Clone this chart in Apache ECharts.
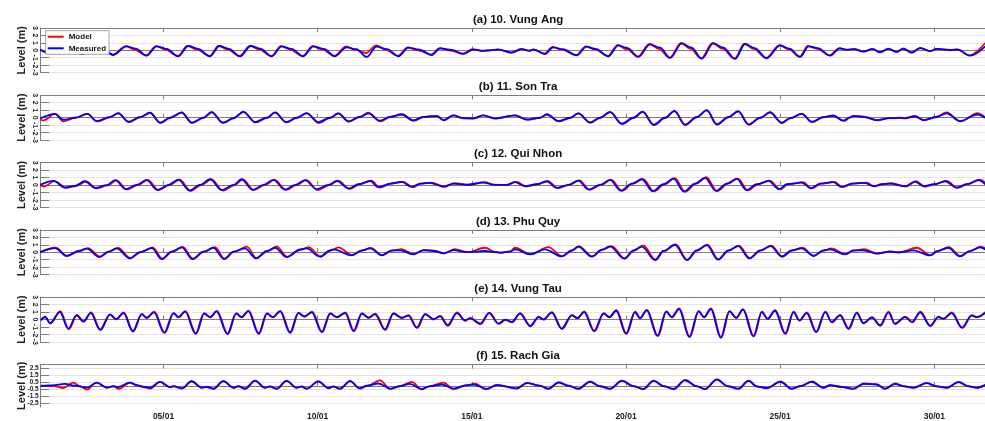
<!DOCTYPE html>
<html><head><meta charset="utf-8">
<script src="https://cdn.jsdelivr.net/npm/echarts@6/dist/echarts.min.js"></script>
<style>html,body{margin:0;padding:0;background:#fff;overflow:hidden;width:985px;height:421px}#c{width:996px;height:421px}</style>
</head><body><div id="c"></div>
<script>
// x axis in days since 01/01 00:00
const tickDays = [4, 9, 14, 19, 24, 29];
const tickLabels = ['05/01', '10/01', '15/01', '20/01', '25/01', '30/01'];
const stationTitles = ['(a) 10. Vung Ang', '(b) 11. Son Tra', '(c) 12. Qui Nhon', '(d) 13. Phu Quy', '(e) 14. Vung Tau', '(f) 15. Rach Gia'];
const yTicksStd = [-3, -2, -1, 0, 1, 2, 3];
const yTicksF = [-2.5, -1.5, -0.5, 0.5, 1.5, 2.5];
const seriesNames = ['Model', 'Measured'];

const aMeas = [[0.00,0.10],[0.32,-0.35],[0.78,0.45],[1.02,0.15],[1.35,-0.50],[1.80,0.50],[2.05,0.18],[2.37,-0.63],[2.80,0.54],[3.10,0.22],[3.45,-0.72],[3.78,0.54],[4.10,0.20],[4.48,-0.80],[4.80,0.58],[5.12,0.20],[5.51,-0.80],[5.81,0.58],[6.12,0.20],[6.48,-0.80],[6.83,0.58],[7.15,0.20],[7.51,-0.80],[7.83,0.54],[8.15,0.20],[8.53,-0.80],[8.86,0.54],[9.20,0.20],[9.56,-0.80],[9.94,0.40],[10.25,0.15],[10.59,-0.89],[10.91,0.49],[11.25,0.15],[11.62,-0.80],[11.94,0.36],[12.30,0.10],[12.70,-0.63],[12.97,0.27],[13.35,0.05],[13.72,-0.49],[14.05,0.09],[14.35,-0.05],[14.59,0.00],[14.86,0.10],[15.29,-0.30],[15.62,0.15],[15.85,-0.05],[16.00,0.10],[16.37,-0.50],[16.64,0.40],[16.95,0.15],[17.40,-0.67],[17.72,0.49],[18.02,0.18],[18.43,-0.80],[18.75,0.67],[19.05,0.30],[19.40,-0.89],[19.78,0.80],[20.10,0.35],[20.43,-1.03],[20.81,0.94],[21.12,0.35],[21.46,-1.12],[21.83,0.94],[22.15,0.35],[22.54,-1.16],[22.86,0.85],[23.17,0.30],[23.56,-1.07],[24.00,0.67],[24.30,0.22],[24.65,-0.89],[24.92,0.54],[25.22,0.30],[25.62,-0.72],[25.94,0.27],[26.15,0.10],[26.40,0.15],[26.70,-0.15],[27.00,0.15],[27.24,-0.25],[27.51,0.18],[27.78,-0.20],[27.99,0.20],[28.27,-0.30],[28.54,0.30],[28.86,-0.10],[29.08,0.18],[29.51,0.05],[29.75,0.10],[30.16,-0.72],[30.65,0.54]];
const aModel = [[0.00,0.05],[0.30,-0.40],[0.75,0.50],[1.00,0.10],[1.33,-0.45],[1.78,0.52],[2.02,0.10],[2.35,-0.60],[2.78,0.56],[3.05,0.10],[3.43,-0.68],[3.76,0.56],[4.05,0.10],[4.46,-0.76],[4.78,0.60],[5.08,0.10],[5.49,-0.76],[5.79,0.60],[6.08,0.10],[6.46,-0.76],[6.81,0.60],[7.10,0.10],[7.49,-0.78],[7.81,0.56],[8.10,0.10],[8.51,-0.78],[8.84,0.56],[9.15,0.10],[9.54,-0.75],[9.92,0.54],[10.20,0.05],[10.57,-0.36],[10.90,0.67],[11.20,0.05],[11.60,-0.75],[11.92,0.40],[12.25,0.00],[12.68,-0.60],[12.96,0.30],[13.30,-0.05],[13.70,-0.45],[14.03,0.15],[14.35,-0.10],[14.59,0.00],[14.86,0.12],[15.27,-0.30],[15.60,0.18],[15.85,-0.08],[16.00,0.12],[16.35,-0.45],[16.62,0.45],[16.92,0.05],[17.38,-0.62],[17.70,0.52],[18.00,0.08],[18.41,-0.75],[18.73,0.70],[19.02,0.15],[19.38,-0.85],[19.76,0.85],[20.06,0.20],[20.41,-1.00],[20.79,0.98],[21.08,0.22],[21.44,-1.08],[21.81,0.98],[22.12,0.22],[22.52,-1.10],[22.84,0.88],[23.14,0.20],[23.54,-1.02],[23.98,0.70],[24.28,0.12],[24.63,-0.85],[24.90,0.58],[25.20,0.20],[25.60,-0.68],[25.92,0.30],[26.13,0.05],[26.40,0.15],[26.70,-0.18],[27.00,0.18],[27.24,-0.28],[27.51,0.22],[27.78,-0.22],[27.99,0.25],[28.27,-0.30],[28.54,0.32],[28.86,-0.12],[29.08,0.20],[29.51,0.00],[29.75,0.12],[30.14,-0.68],[30.65,0.98]];

const bMeas = [[0.00,-0.11],[0.48,0.51],[0.75,-0.29],[1.13,-0.02],[1.53,0.51],[1.83,-0.47],[2.26,0.07],[2.53,0.60],[2.86,-0.56],[3.24,0.07],[3.56,0.65],[3.89,-0.69],[4.21,-0.02],[4.59,0.69],[4.91,-0.69],[5.29,-0.02],[5.56,0.74],[5.92,-0.69],[6.27,-0.07],[6.59,0.78],[6.97,-0.60],[7.35,-0.02],[7.62,0.69],[7.97,-0.60],[8.32,-0.02],[8.64,0.60],[9.02,-0.60],[9.40,-0.02],[9.67,0.56],[10.00,-0.51],[10.37,0.11],[10.64,0.56],[11.02,-0.42],[11.35,0.11],[11.73,0.42],[12.10,-0.38],[12.43,0.11],[12.86,0.20],[13.08,-0.33],[13.40,0.29],[13.72,-0.07],[14.05,-0.11],[14.37,0.29],[14.75,-0.11],[15.40,0.29],[15.78,-0.25],[16.21,-0.02],[16.43,0.42],[16.81,-0.47],[17.19,-0.02],[17.45,0.56],[17.83,-0.65],[18.16,-0.02],[18.48,0.74],[18.86,-0.83],[19.24,-0.02],[19.54,0.78],[19.89,-0.96],[20.27,-0.02],[20.57,0.87],[20.91,-0.96],[21.29,0.07],[21.62,0.96],[21.94,-0.92],[22.32,0.07],[22.64,0.83],[22.97,-0.92],[23.35,-0.02],[23.67,0.69],[24.05,-0.69],[24.32,-0.07],[24.70,0.51],[25.02,-0.56],[25.40,0.07],[25.72,0.25],[26.05,-0.42],[26.27,0.02],[26.37,0.20],[26.70,0.11],[27.13,-0.33],[27.56,-0.07],[27.90,-0.05],[28.05,-0.10],[28.37,0.15],[28.65,-0.33],[29.05,0.05],[29.40,0.56],[29.83,-0.47],[30.40,0.42],[30.65,-0.02]];
const bModel = [[0.00,-0.25],[0.10,-0.38],[0.48,0.49],[0.75,-0.51],[1.13,-0.05],[1.53,0.49],[1.85,-0.52],[2.26,0.05],[2.53,0.58],[2.88,-0.60],[3.24,0.05],[3.56,0.63],[3.91,-0.72],[4.21,-0.05],[4.59,0.67],[4.93,-0.72],[5.29,-0.05],[5.56,0.72],[5.94,-0.72],[6.27,-0.10],[6.59,0.76],[6.99,-0.65],[7.35,-0.05],[7.62,0.67],[7.99,-0.65],[8.32,-0.05],[8.64,0.58],[9.04,-0.74],[9.40,-0.05],[9.67,0.56],[10.02,-0.55],[10.37,0.08],[10.64,0.65],[11.04,-0.52],[11.35,0.08],[11.73,0.45],[12.12,-0.42],[12.43,0.08],[12.86,0.22],[13.10,-0.38],[13.40,0.30],[13.72,-0.10],[14.05,-0.12],[14.37,0.30],[14.75,-0.13],[15.40,0.30],[15.80,-0.30],[16.21,-0.05],[16.43,0.45],[16.83,-0.52],[17.19,-0.05],[17.45,0.58],[17.85,-0.70],[18.16,-0.05],[18.48,0.76],[18.88,-0.87],[19.24,-0.05],[19.54,0.80],[19.91,-1.00],[20.27,-0.05],[20.57,0.90],[20.93,-1.00],[21.29,0.05],[21.62,1.00],[21.96,-0.96],[22.32,0.05],[22.64,0.86],[22.99,-0.96],[23.35,-0.05],[23.67,0.72],[24.07,-0.74],[24.32,-0.10],[24.70,0.54],[25.04,-0.60],[25.40,0.05],[25.72,0.28],[26.07,-0.45],[26.27,0.02],[26.37,0.22],[26.70,0.14],[27.15,-0.36],[27.56,-0.05],[27.90,0.00],[28.05,-0.05],[28.37,0.22],[28.67,-0.36],[29.05,0.10],[29.40,0.69],[29.85,-0.50],[30.40,0.60],[30.65,0.02]];

const cMeas = [[0.00,0.00],[0.43,0.54],[0.80,-0.36],[1.13,-0.13],[1.45,0.49],[1.78,-0.40],[2.16,-0.04],[2.43,0.63],[2.78,-0.58],[3.13,0.00],[3.45,0.67],[3.80,-0.67],[4.16,0.00],[4.48,0.71],[4.84,-0.76],[5.18,0.00],[5.51,0.76],[5.89,-0.71],[6.27,0.00],[6.53,0.76],[6.89,-0.67],[7.24,0.00],[7.56,0.67],[7.94,-0.63],[8.27,0.00],[8.59,0.63],[8.97,-0.58],[9.35,0.00],[9.62,0.54],[10.00,-0.49],[10.32,0.09],[10.70,0.54],[10.97,-0.31],[11.35,0.18],[11.73,0.40],[12.05,-0.27],[12.32,0.18],[12.64,0.27],[13.08,-0.22],[13.40,0.18],[13.83,0.00],[14.37,0.31],[14.75,0.00],[15.13,0.00],[15.40,0.36],[15.73,-0.18],[16.10,0.09],[16.43,0.49],[16.75,-0.40],[17.13,0.00],[17.45,0.58],[17.78,-0.63],[18.16,0.00],[18.48,0.67],[18.83,-0.76],[19.19,0.18],[19.51,0.76],[19.87,-0.85],[20.21,0.09],[20.54,0.85],[20.88,-0.89],[21.24,0.18],[21.56,0.94],[21.92,-0.80],[22.27,0.18],[22.59,0.80],[22.91,-0.71],[23.24,0.09],[23.62,0.54],[23.97,-0.58],[24.21,0.09],[24.70,0.31],[24.99,-0.45],[25.29,0.18],[25.72,0.36],[25.99,-0.27],[26.32,0.18],[26.75,0.27],[27.02,-0.18],[27.29,0.09],[27.56,0.18],[28.05,-0.18],[28.37,0.45],[28.65,-0.18],[29.00,0.10],[29.35,0.49],[29.72,-0.36],[30.05,0.10],[30.43,0.63],[30.65,0.09]];
const cModel = [[0.00,0.00],[0.12,-0.22],[0.47,0.50],[0.84,-0.40],[1.17,-0.15],[1.49,0.47],[1.82,-0.45],[2.20,-0.06],[2.47,0.60],[2.82,-0.62],[3.17,-0.02],[3.49,0.65],[3.84,-0.71],[4.20,-0.02],[4.52,0.69],[4.88,-0.80],[5.22,-0.02],[5.55,0.74],[5.93,-0.76],[6.31,-0.02],[6.57,0.74],[6.93,-0.71],[7.28,-0.02],[7.60,0.67],[7.98,-0.68],[8.31,-0.02],[8.63,0.63],[9.01,-0.71],[9.39,-0.02],[9.66,0.56],[10.04,-0.54],[10.36,0.07],[10.74,0.56],[11.01,-0.36],[11.39,0.16],[11.77,0.42],[12.09,-0.31],[12.36,0.16],[12.68,0.31],[13.12,-0.25],[13.44,0.22],[13.87,0.02],[14.41,0.36],[14.75,0.02],[15.13,0.00],[15.44,0.40],[15.77,-0.20],[16.14,0.09],[16.47,0.52],[16.79,-0.43],[17.17,0.00],[17.49,0.62],[17.82,-0.66],[18.20,0.00],[18.52,0.71],[18.87,-0.80],[19.23,0.16],[19.55,0.80],[19.91,-0.88],[20.25,0.07],[20.58,0.90],[20.92,-0.92],[21.28,0.16],[21.60,1.03],[21.96,-0.84],[22.31,0.16],[22.63,0.85],[22.95,-0.74],[23.28,0.07],[23.66,0.58],[24.01,-0.61],[24.25,0.07],[24.74,0.36],[25.03,-0.48],[25.33,0.16],[25.76,0.40],[26.03,-0.30],[26.36,0.16],[26.79,0.31],[27.06,-0.20],[27.33,0.09],[27.60,0.22],[28.09,-0.20],[28.41,0.50],[28.69,-0.22],[29.04,0.10],[29.39,0.55],[29.76,-0.40],[30.09,0.12],[30.47,0.70],[30.65,0.30]];

const dMeas = [[0.00,0.02],[0.48,0.55],[0.86,-0.51],[1.24,0.16],[1.51,0.47],[1.92,-0.65],[2.21,0.07],[2.48,0.51],[2.91,-0.83],[3.24,0.02],[3.62,0.55],[3.94,-0.92],[4.26,0.07],[4.59,0.65],[4.94,-0.92],[5.29,0.07],[5.62,0.60],[5.96,-0.92],[6.27,0.07],[6.64,0.51],[7.00,-0.83],[7.35,0.16],[7.62,0.60],[7.99,-0.65],[8.43,0.38],[8.64,0.51],[9.08,-0.60],[9.40,0.25],[9.51,0.38],[10.10,-0.42],[10.43,0.25],[10.70,0.51],[11.08,-0.42],[11.40,0.25],[11.67,0.25],[12.10,-0.29],[12.43,0.25],[12.75,0.16],[13.08,-0.16],[13.40,0.29],[13.83,0.02],[14.43,0.16],[14.75,0.02],[14.91,-0.07],[15.24,0.07],[15.40,0.38],[15.89,-0.29],[16.37,0.38],[16.91,-0.56],[17.24,0.25],[17.45,0.74],[17.89,-0.60],[18.21,0.33],[18.48,0.78],[18.94,-0.87],[19.24,0.25],[19.51,0.74],[19.94,-1.05],[20.21,0.16],[20.59,1.00],[20.97,-1.05],[21.29,0.25],[21.62,0.96],[21.98,-1.00],[22.32,0.25],[22.64,0.83],[23.00,-0.83],[23.35,0.25],[23.69,0.83],[24.05,-0.60],[24.37,0.25],[24.70,0.51],[25.08,-0.51],[25.40,0.25],[25.62,0.38],[26.10,-0.29],[26.37,0.25],[26.70,0.25],[27.13,-0.20],[27.56,0.07],[27.85,-0.05],[28.32,0.25],[28.86,-0.42],[29.10,0.15],[29.45,0.60],[29.83,-0.56],[30.15,0.15],[30.48,0.65],[30.65,0.38]];
const dModel = [[0.00,0.00],[0.50,0.60],[0.88,-0.48],[1.26,0.12],[1.55,0.55],[1.94,-0.60],[2.23,0.05],[2.52,0.58],[2.93,-0.78],[3.26,0.00],[3.65,0.65],[3.96,-0.88],[4.28,0.05],[4.62,0.70],[4.96,-0.88],[5.31,0.05],[5.67,0.69],[5.98,-0.88],[6.29,0.05],[6.70,0.74],[7.02,-0.80],[7.37,0.12],[7.67,0.78],[8.01,-0.62],[8.45,0.30],[8.70,0.69],[9.10,-0.58],[9.42,0.20],[9.67,0.65],[10.12,-0.40],[10.45,0.22],[10.72,0.58],[11.10,-0.40],[11.42,0.22],[11.72,0.40],[12.12,-0.27],[12.45,0.30],[12.77,0.22],[13.10,-0.14],[13.45,0.40],[13.85,0.00],[14.43,0.60],[14.75,0.05],[14.91,-0.05],[15.24,0.10],[15.40,0.60],[15.91,-0.27],[16.48,0.69],[16.93,-0.54],[17.26,0.22],[17.47,0.78],[17.91,-0.58],[18.23,0.30],[18.54,0.83],[18.96,-0.85],[19.26,0.22],[19.56,0.92],[19.96,-1.03],[20.23,0.14],[20.61,1.05],[20.99,-1.03],[21.31,0.22],[21.64,1.00],[22.00,-0.98],[22.34,0.22],[22.66,0.88],[23.02,-0.80],[23.37,0.22],[23.71,0.88],[24.07,-0.58],[24.39,0.22],[24.72,0.60],[25.10,-0.48],[25.42,0.22],[25.66,0.50],[26.12,-0.27],[26.39,0.22],[26.72,0.40],[27.15,-0.18],[27.58,0.10],[27.87,0.00],[28.43,0.60],[28.88,-0.40],[29.12,0.18],[29.47,0.69],[29.85,-0.54],[30.17,0.18],[30.50,0.74],[30.65,0.55]];

const eMeas = [[0.02,-0.11],[0.16,0.33],[0.32,-0.47],[0.64,1.00],[0.91,-1.23],[1.18,0.56],[1.40,-0.25],[1.64,0.87],[1.94,-1.36],[2.26,0.65],[2.46,0.07],[2.70,0.87],[3.00,-1.58],[3.29,0.69],[3.45,0.25],[3.69,0.96],[4.02,-1.76],[4.32,0.83],[4.48,0.33],[4.70,1.05],[5.04,-1.90],[5.31,0.78],[5.51,0.33],[5.72,1.09],[6.07,-1.94],[6.35,0.78],[6.53,0.33],[6.75,1.14],[7.08,-1.90],[7.35,0.78],[7.54,0.33],[7.78,1.09],[8.10,-1.76],[8.37,0.87],[8.56,0.42],[8.81,0.96],[9.13,-1.67],[9.40,0.78],[9.62,0.33],[9.89,0.87],[10.16,-1.54],[10.43,0.78],[10.64,0.25],[10.86,0.69],[11.18,-1.36],[11.45,0.78],[11.73,0.25],[11.94,0.51],[12.21,-1.09],[12.48,0.69],[12.75,0.07],[12.97,0.42],[13.21,-0.78],[13.51,0.87],[13.78,-0.11],[13.94,0.16],[14.27,-0.56],[14.56,0.85],[14.86,-0.56],[15.08,-0.02],[15.29,-0.33],[15.56,0.78],[15.89,-0.87],[16.16,0.33],[16.32,0.02],[16.59,0.92],[16.91,-1.23],[17.24,0.56],[17.42,0.20],[17.64,1.00],[17.96,-1.54],[18.27,0.78],[18.46,0.33],[18.68,1.18],[19.00,-1.90],[19.29,1.00],[19.45,0.20],[19.67,1.23],[20.02,-2.21],[20.30,1.05],[20.48,0.33],[20.72,1.41],[21.05,-2.34],[21.35,1.09],[21.53,0.33],[21.75,1.41],[22.07,-2.43],[22.35,1.09],[22.57,0.25],[22.79,1.32],[23.13,-2.25],[23.40,1.00],[23.59,0.11],[23.83,1.18],[24.16,-1.90],[24.43,1.00],[24.62,-0.11],[24.86,0.87],[25.16,-1.67],[25.46,1.00],[25.67,-0.33],[25.94,0.56],[26.21,-1.23],[26.48,0.87],[26.70,-0.47],[26.97,0.25],[27.24,-0.78],[27.51,0.96],[27.72,-0.56],[28.05,0.33],[28.27,-0.33],[28.54,0.96],[28.86,-0.83],[29.13,0.33],[29.29,0.11],[29.56,0.87],[29.89,-1.09],[30.21,0.51],[30.37,0.33],[30.65,0.87]];
const eModel = [[0.02,-0.05],[0.16,0.40],[0.33,-0.55],[0.65,1.12],[0.93,-1.32],[1.19,0.62],[1.41,-0.30],[1.65,0.95],[1.96,-1.42],[2.27,0.70],[2.47,0.02],[2.71,0.95],[3.02,-1.62],[3.30,0.75],[3.46,0.20],[3.70,1.04],[4.04,-1.80],[4.33,0.88],[4.49,0.28],[4.71,1.12],[5.06,-1.92],[5.32,0.84],[5.52,0.28],[5.73,1.16],[6.09,-1.96],[6.36,0.84],[6.54,0.28],[6.76,1.20],[7.10,-1.92],[7.36,0.84],[7.55,0.28],[7.79,1.16],[8.12,-1.80],[8.38,0.92],[8.57,0.36],[8.82,1.04],[9.15,-1.70],[9.41,0.84],[9.63,0.28],[9.90,0.95],[10.18,-1.58],[10.44,0.84],[10.65,0.20],[10.87,0.78],[11.20,-1.40],[11.46,0.84],[11.74,0.18],[11.95,0.60],[12.23,-1.14],[12.49,0.76],[12.76,0.00],[12.98,0.50],[13.23,-0.84],[13.52,0.95],[13.79,-0.18],[13.95,0.22],[14.29,-0.62],[14.57,0.92],[14.88,-0.60],[15.09,-0.05],[15.31,-0.38],[15.57,0.86],[15.91,-0.92],[16.17,0.40],[16.33,-0.02],[16.60,1.00],[16.93,-1.28],[17.25,0.62],[17.43,0.15],[17.65,1.08],[17.98,-1.58],[18.28,0.84],[18.47,0.28],[18.69,1.26],[19.02,-1.94],[19.30,1.06],[19.46,0.15],[19.68,1.30],[20.04,-2.24],[20.31,1.10],[20.49,0.28],[20.73,1.48],[21.07,-2.36],[21.36,1.14],[21.54,0.28],[21.76,1.48],[22.09,-2.44],[22.36,1.14],[22.58,0.20],[22.80,1.40],[23.15,-2.26],[23.41,1.06],[23.60,0.05],[23.84,1.26],[24.18,-1.92],[24.44,1.06],[24.63,-0.18],[24.87,0.95],[25.18,-1.70],[25.47,1.06],[25.68,-0.40],[25.95,0.62],[26.23,-1.28],[26.49,0.95],[26.71,-0.52],[26.98,0.32],[27.26,-0.84],[27.52,1.04],[27.73,-0.62],[28.06,0.40],[28.29,-0.38],[28.55,1.04],[28.88,-0.88],[29.14,0.40],[29.30,0.05],[29.57,0.95],[29.91,-1.14],[30.22,0.58],[30.38,0.28],[30.65,0.98]];

const fMeas = [[0.02,-0.05],[0.40,0.05],[0.80,0.27],[1.15,0.00],[1.51,-0.27],[1.83,0.45],[2.16,-0.23],[2.37,-0.05],[2.53,-0.18],[2.91,0.45],[3.13,0.09],[3.34,-0.14],[3.56,-0.27],[3.89,0.55],[4.21,-0.18],[4.32,-0.05],[4.59,-0.36],[4.91,0.64],[5.24,-0.27],[5.40,-0.14],[5.62,-0.41],[5.94,0.64],[6.27,-0.27],[6.43,-0.05],[6.64,-0.41],[6.97,0.73],[7.29,-0.27],[7.45,-0.09],[7.67,-0.41],[7.99,0.68],[8.32,-0.27],[8.48,-0.09],[8.64,-0.41],[9.02,0.59],[9.35,-0.32],[9.51,-0.09],[9.72,-0.41],[10.05,0.64],[10.37,-0.36],[10.59,0.00],[10.97,0.32],[11.35,-0.41],[11.67,-0.05],[11.99,0.27],[12.37,-0.45],[12.64,-0.05],[13.02,0.18],[13.40,-0.41],[13.83,0.09],[14.05,0.18],[14.48,-0.45],[14.81,0.09],[15.45,-0.36],[15.78,0.36],[16.21,0.00],[16.48,-0.41],[16.81,0.45],[17.15,0.00],[17.45,-0.41],[17.83,0.55],[18.15,-0.05],[18.48,-0.41],[18.86,0.68],[19.24,-0.05],[19.56,-0.45],[19.89,0.68],[20.22,-0.05],[20.54,-0.45],[20.91,0.77],[21.29,-0.05],[21.56,-0.45],[21.94,0.86],[22.30,-0.05],[22.64,-0.41],[22.97,0.68],[23.24,-0.09],[23.56,-0.32],[24.00,0.55],[24.37,-0.41],[24.65,-0.05],[25.02,0.55],[25.40,-0.27],[25.62,0.09],[26.00,-0.15],[26.37,-0.41],[26.70,0.27],[27.13,0.18],[27.40,-0.41],[27.72,0.27],[28.00,-0.05],[28.32,-0.27],[28.75,0.36],[29.05,-0.05],[29.40,-0.27],[29.78,0.50],[30.10,-0.05],[30.37,-0.27],[30.65,0.09]];
const fModel = [[0.02,0.00],[0.40,0.00],[0.75,-0.32],[1.07,0.45],[1.30,-0.10],[1.51,-0.55],[1.83,0.45],[2.16,-0.28],[2.37,-0.10],[2.55,-0.45],[2.91,0.45],[3.13,0.05],[3.34,-0.20],[3.56,-0.41],[3.89,0.55],[4.21,-0.22],[4.32,-0.10],[4.59,-0.40],[4.91,0.60],[5.24,-0.30],[5.40,-0.18],[5.62,-0.45],[5.94,0.64],[6.27,-0.30],[6.43,-0.10],[6.64,-0.45],[6.97,0.70],[7.29,-0.30],[7.45,-0.12],[7.67,-0.45],[7.99,0.68],[8.32,-0.30],[8.48,-0.12],[8.64,-0.45],[9.02,0.64],[9.35,-0.35],[9.51,-0.12],[9.72,-0.45],[10.05,0.64],[10.37,-0.40],[10.59,-0.05],[11.02,0.77],[11.35,-0.45],[11.67,-0.08],[12.05,0.55],[12.37,-0.50],[12.64,-0.08],[13.08,0.45],[13.40,-0.45],[13.83,0.05],[14.10,0.30],[14.48,-0.50],[14.81,0.12],[15.45,-0.40],[15.80,0.40],[16.21,-0.03],[16.48,-0.45],[16.83,0.50],[17.15,-0.05],[17.45,-0.45],[17.85,0.60],[18.15,-0.08],[18.48,-0.45],[18.88,0.72],[19.24,-0.08],[19.56,-0.50],[19.91,0.72],[20.22,-0.08],[20.54,-0.50],[20.93,0.82],[21.29,-0.08],[21.56,-0.50],[21.96,0.90],[22.30,-0.08],[22.64,-0.45],[22.99,0.72],[23.24,-0.12],[23.56,-0.36],[24.02,0.60],[24.37,-0.45],[24.65,-0.08],[25.04,0.60],[25.40,-0.30],[25.62,0.05],[26.00,-0.20],[26.37,-0.45],[26.72,0.32],[27.13,0.20],[27.40,-0.45],[27.74,0.32],[28.00,-0.08],[28.32,-0.30],[28.77,0.40],[29.05,-0.08],[29.40,-0.30],[29.80,0.55],[30.10,-0.08],[30.37,-0.30],[30.65,0.12]];

const panels = [
  {model: aModel, meas: aMeas, ticks: yTicksStd},
  {model: bModel, meas: bMeas, ticks: yTicksStd},
  {model: cModel, meas: cMeas, ticks: yTicksStd},
  {model: dModel, meas: dMeas, ticks: yTicksStd},
  {model: eModel, meas: eMeas, ticks: yTicksStd},
  {model: fModel, meas: fMeas, ticks: yTicksF}
];

const FONT = '"Liberation Sans", Arial, Helvetica, sans-serif';
const frameColor = '#7d7d7d';
const gridColor = '#e4e4e4';
const tops = [28, 95.3, 162.6, 229.9, 297.2, 364.5];
const H = 44.6, L = 40.2, PW = 955.8;

const grid = [], xAxis = [], yAxis = [], series = [], graphic = [];
panels.forEach((p, i) => {
  grid.push({left: L, top: tops[i], width: PW, height: H});
  const xBase = {
    type: 'value', gridIndex: i, min: 0, max: 31,
    axisLine: {show: true, lineStyle: {color: frameColor, width: 1}},
    axisTick: {show: true, inside: true, length: 4, customValues: tickDays, lineStyle: {color: frameColor}},
    splitLine: {show: false}
  };
  xAxis.push(Object.assign({}, xBase, {
    position: 'bottom',
    axisLabel: {show: i === 5, customValues: tickDays, margin: 5,
      formatter: v => tickLabels[tickDays.indexOf(v)],
      fontFamily: FONT, fontSize: 8.5, fontWeight: 'bold', color: '#222'}
  }));
  xAxis.push(Object.assign({}, xBase, {position: 'top', axisLabel: {show: false}}));
  const isF = i === 5;
  yAxis.push({
    type: 'value', gridIndex: i, min: -3, max: 3,
    name: 'Level (m)', nameLocation: 'middle', nameGap: 13, nameRotate: 90, nameMoveOverlap: false,
    nameTextStyle: {fontFamily: FONT, fontSize: 11, fontWeight: 'bold', color: '#222'},
    axisLine: {show: true, lineStyle: {color: frameColor, width: 1}},
    axisTick: {show: true, inside: true, length: 9, customValues: p.ticks, lineStyle: {color: frameColor}},
    axisLabel: {show: true, customValues: p.ticks, rotate: isF ? 0 : -90, margin: isF ? 1.5 : 2,
      fontFamily: FONT, fontSize: isF ? 6.5 : 7, fontWeight: 'bold', color: '#222',
      formatter: v => String(v)},
    splitLine: {show: true, lineStyle: {color: gridColor, width: 1}}
  });
  [[p.model, seriesNames[0], '#ff0000'], [p.meas, seriesNames[1], '#0000ff']].forEach(([d, nm, col]) => {
    series.push({
      type: 'line', name: nm, xAxisIndex: 2 * i, yAxisIndex: i, data: d,
      symbol: 'none', smooth: 0.35, smoothMonotone: 'x',
      lineStyle: {color: col, width: 1.8}, itemStyle: {color: col}, z: nm === 'Model' ? 2 : 3
    });
  });
  graphic.push({
    type: 'text', x: L + PW / 2, y: tops[i] - 8.3, silent: true,
    style: {text: stationTitles[i], font: 'bold 11.5px ' + FONT, fill: '#111',
      align: 'center', verticalAlign: 'middle', textAlign: 'center', textVerticalAlign: 'middle'}
  });
});

const chart = echarts.init(document.getElementById('c'), null, {renderer: 'canvas'});
chart.setOption({
  animation: false,
  backgroundColor: '#fff',
  grid, xAxis, yAxis, series, graphic,
  legend: {
    data: seriesNames, orient: 'vertical', left: 45.7, top: tops[0] + 2.7,
    icon: 'rect', itemWidth: 16, itemHeight: 2, itemGap: 1.6,
    backgroundColor: '#fff', borderColor: '#8a8a8a', borderWidth: 0.8, borderRadius: 0,
    padding: [1, 3, 1, 2],
    textStyle: {fontFamily: FONT, fontSize: 8, lineHeight: 10, fontWeight: 'bold', color: '#111'}
  }
});
</script>
</body></html>
